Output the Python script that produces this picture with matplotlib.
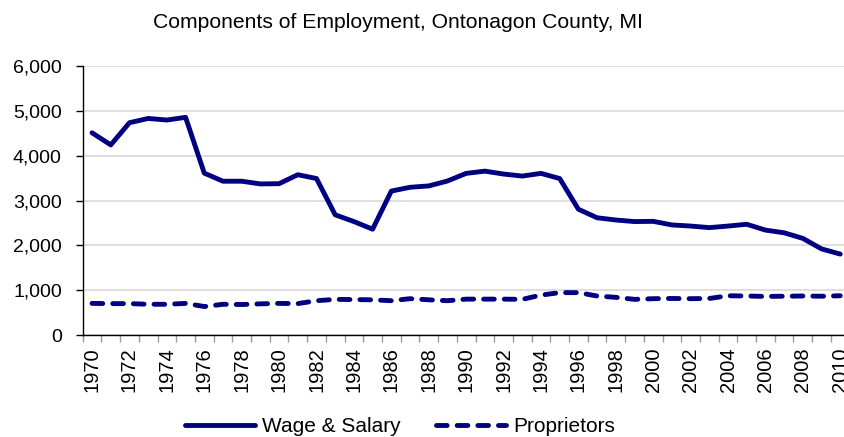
import numpy as np
import matplotlib
matplotlib.use("Agg")
import matplotlib.pyplot as plt
from matplotlib import font_manager
from matplotlib.ticker import FixedLocator, FuncFormatter


years = list(range(1970, 2011))

wage_salary = [4510, 4240, 4735, 4830, 4795, 4855, 3610, 3430, 3430, 3370,
               3375, 3575, 3490, 2680, 2530, 2360, 3210, 3295, 3325, 3435,
               3605, 3655, 3590, 3545, 3605, 3490, 2805, 2615, 2565, 2530,
               2535, 2455, 2430, 2395, 2430, 2470, 2340, 2280, 2155, 1920,
               1805]

proprietors = [705, 700, 700, 685, 685, 705, 635, 685, 680, 695,
               705, 700, 765, 795, 790, 785, 765, 810, 785, 765,
               800, 800, 800, 795, 890, 945, 945, 870, 840, 795,
               810, 815, 810, 815, 875, 870, 860, 865, 870, 865,
               875]

NAVY = "#000080"
W, H = 845, 437

names = {f.name for f in font_manager.fontManager.ttflist}
BASE = "Liberation Sans" if "Liberation Sans" in names else "DejaVu Sans"
plt.rcParams["font.family"] = [BASE, "DejaVu Sans"]

fig = plt.figure(figsize=(W / 100, H / 100), dpi=100)
# plot area runs a little past the right edge of the picture
ax = fig.add_axes([82.7 / W, (H - 335) / H, (849.6 - 82.7) / W, (335 - 66) / H])

x = np.arange(len(years))
ax.plot(x, wage_salary, color=NAVY, lw=3.5, solid_capstyle="round",
        solid_joinstyle="round", label="Wage & Salary")
ax.plot(x, proprietors, color=NAVY, lw=3.5, dashes=(2.2, 2.05),
        dash_capstyle="round", dash_joinstyle="round", label="Proprietors")

ax.set_xlim(-0.5, len(years) - 0.5)
ax.set_ylim(0, 6000)
ax.set_yticks(range(0, 6001, 1000))
ax.yaxis.set_major_formatter(FuncFormatter(lambda v, p: f"{int(v):,}"))
ax.grid(axis="y", color="#d9d9d9", lw=1.2)
ax.set_axisbelow(True)

ax.set_xticks(x[::2])
ax.set_xticklabels([str(y) for y in years[::2]], rotation=90, fontsize=14.5)
ax.xaxis.set_minor_locator(FixedLocator(np.arange(-0.5, len(years), 1.0)))
ax.tick_params(axis="x", which="major", length=0, pad=9)
ax.tick_params(axis="x", which="minor", length=5, color="#999999", width=1)
ax.tick_params(axis="y", length=5, width=1, color="black", labelsize=14, pad=10)

for side in ("top", "right"):
    ax.spines[side].set_visible(False)
ax.spines["left"].set_linewidth(1)
ax.spines["bottom"].set_linewidth(1)

fig.text(398 / W, 1 - 22 / H, "Components of Employment, Ontonagon County, MI",
         ha="center", va="center", fontsize=15.2)

leg = fig.legend(loc="center left", bbox_to_anchor=(185 / W, 10 / H), ncol=2,
                 frameon=False, borderpad=0, borderaxespad=0,
                 handlelength=3.35, handletextpad=0.34, columnspacing=1.7,
                 fontsize=15)

fig.savefig("out.png", dpi=100)
